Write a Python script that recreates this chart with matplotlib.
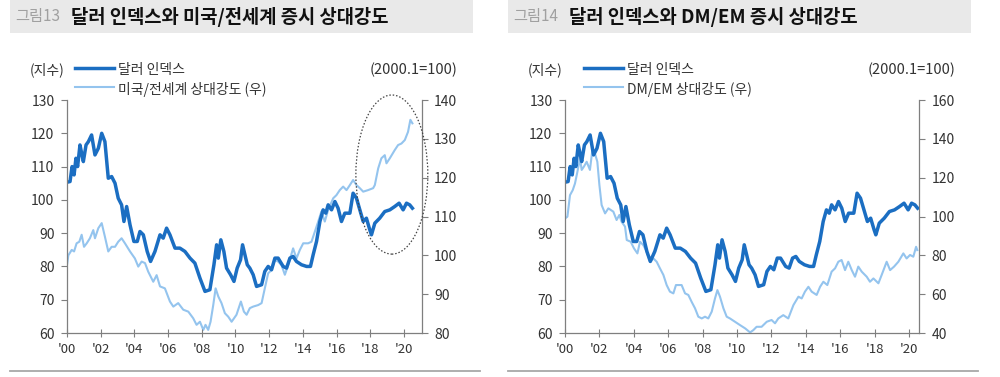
import numpy as np
import matplotlib
matplotlib.use("Agg")
import matplotlib.pyplot as plt
from matplotlib.patches import Rectangle, Ellipse
from matplotlib.lines import Line2D

plt.rcParams['font.family'] = ['Noto Sans CJK KR', 'DejaVu Sans']

# dollar index (same series in both panels)
dxy_year = [2000.0, 2000.18, 2000.30, 2000.42, 2000.53, 2000.63, 2000.77, 2000.89, 2000.97,
            2001.13, 2001.27, 2001.46, 2001.66, 2001.86, 2002.06, 2002.25, 2002.45, 2002.65,
            2002.85, 2003.04, 2003.24, 2003.38, 2003.54, 2003.74, 2003.97, 2004.17, 2004.33,
            2004.53, 2004.76, 2004.96, 2005.22, 2005.52, 2005.71, 2005.91, 2006.11, 2006.41,
            2006.70, 2007.00, 2007.30, 2007.59, 2007.89, 2008.19, 2008.48, 2008.72, 2008.88,
            2008.98, 2009.13, 2009.31, 2009.47, 2009.71, 2009.91, 2010.10, 2010.30, 2010.42,
            2010.56, 2010.70, 2010.85, 2011.05, 2011.25, 2011.55, 2011.74, 2011.94, 2012.14,
            2012.34, 2012.53, 2012.83, 2013.03, 2013.23, 2013.42, 2013.62, 2013.92, 2014.22,
            2014.45, 2014.61, 2014.81, 2015.01, 2015.20, 2015.36, 2015.50, 2015.70, 2015.90,
            2016.09, 2016.29, 2016.49, 2016.79, 2016.98, 2017.18, 2017.38, 2017.58, 2017.77,
            2017.97, 2018.07, 2018.27, 2018.56, 2018.86, 2019.16, 2019.45, 2019.71, 2019.95,
            2020.15, 2020.34, 2020.50]
dxy_val = [105.3, 105.5, 110.0, 107.5, 112.5, 110.0, 116.5, 113.5, 111.5,
           116.5, 117.5, 119.5, 113.5, 115.5, 120.0, 117.5, 106.5, 107.0,
           105.0, 100.5, 98.5, 93.5, 98.0, 92.5, 87.5, 87.5, 90.5,
           89.5, 84.5, 81.5, 84.5, 89.5, 88.5, 91.5, 89.5, 85.5,
           85.5, 84.5, 82.5, 81.0, 76.5, 72.5, 73.0, 80.5, 86.5,
           82.5, 88.0, 84.5, 79.5, 77.5, 75.5, 79.5, 82.0, 86.5,
           83.5, 80.5, 79.5, 77.5, 74.0, 74.5, 78.5, 80.0, 79.0,
           82.5, 82.5, 80.0, 79.5, 82.5, 83.0, 81.5, 80.5, 80.0,
           80.0, 83.5, 87.5, 93.5, 97.0, 96.0, 98.5, 97.0, 99.5,
           97.5, 93.5, 96.0, 96.0, 102.0, 100.5, 97.0, 93.5, 94.5,
           91.0, 89.5, 93.0, 94.5, 96.5, 97.0, 98.0, 99.0, 97.0,
           99.0, 98.5, 97.5]

# US / world relative strength (right axis, left panel)
usw_year = [2000.0, 2000.08, 2000.28, 2000.42, 2000.57, 2000.73, 2000.87, 2001.01, 2001.17,
            2001.36, 2001.56, 2001.66, 2001.86, 2002.06, 2002.25, 2002.45, 2002.65, 2002.85,
            2003.04, 2003.24, 2003.44, 2003.74, 2004.03, 2004.23, 2004.43, 2004.63, 2004.82,
            2005.12, 2005.32, 2005.52, 2005.81, 2006.11, 2006.31, 2006.60, 2006.90, 2007.20,
            2007.49, 2007.69, 2007.89, 2008.09, 2008.22, 2008.38, 2008.52, 2008.68, 2008.82,
            2008.98, 2009.17, 2009.37, 2009.57, 2009.77, 2010.06, 2010.32, 2010.50, 2010.66,
            2010.85, 2011.05, 2011.35, 2011.55, 2011.74, 2011.94, 2012.14, 2012.34, 2012.53,
            2012.73, 2012.93, 2013.13, 2013.42, 2013.62, 2013.82, 2014.02, 2014.31, 2014.51,
            2014.71, 2014.91, 2015.10, 2015.30, 2015.50, 2015.80, 2015.99, 2016.19, 2016.39,
            2016.59, 2016.79, 2016.98, 2017.18, 2017.38, 2017.58, 2017.87, 2018.17, 2018.27,
            2018.47, 2018.66, 2018.86, 2018.96, 2019.16, 2019.45, 2019.65, 2019.85, 2020.05,
            2020.24, 2020.38, 2020.50]
usw_val = [97.5, 100.0, 101.4, 101.0, 103.1, 103.5, 105.3, 102.2, 103.1,
           104.4, 106.5, 104.4, 107.0, 108.3, 104.8, 101.0, 102.2, 102.2,
           103.5, 104.4, 103.1, 101.0, 99.2, 97.1, 98.4, 98.0, 95.8,
           93.2, 94.9, 92.0, 91.5, 88.1, 86.8, 87.7, 86.0, 85.5,
           83.8, 82.1, 82.9, 80.8, 82.1, 80.8, 82.9, 87.2, 91.5,
           89.4, 87.7, 85.1, 84.2, 82.9, 84.7, 88.1, 85.5, 84.7,
           86.4, 86.8, 87.2, 87.7, 91.5, 95.4, 96.2, 98.8, 98.4,
           97.5, 95.0, 97.5, 101.8, 99.2, 101.4, 103.1, 103.1, 103.5,
           106.1, 108.7, 111.3, 108.7, 111.7, 114.7, 115.5, 116.8, 117.7,
           116.8, 118.1, 119.4, 118.1, 117.3, 116.4, 116.8, 117.3, 118.1,
           122.4, 125.0, 125.8, 123.7, 125.0, 127.1, 128.4, 128.8, 129.7,
           131.8, 134.9, 134.0]

# DM / EM relative strength (right axis, right panel)
dmem_year = [2000.0, 2000.14, 2000.29, 2000.45, 2000.58, 2000.72, 2000.87, 2000.97, 2001.10,
             2001.26, 2001.45, 2001.59, 2001.74, 2001.88, 2002.00, 2002.13, 2002.33, 2002.52,
             2002.81, 2003.00, 2003.16, 2003.29, 2003.49, 2003.59, 2003.82, 2004.01, 2004.21,
             2004.36, 2004.55, 2004.75, 2004.94, 2005.14, 2005.33, 2005.52, 2005.72, 2005.91,
             2006.10, 2006.30, 2006.45, 2006.78, 2006.98, 2007.17, 2007.36, 2007.56, 2007.75,
             2007.95, 2008.14, 2008.33, 2008.53, 2008.72, 2008.86, 2009.01, 2009.21, 2009.40,
             2009.59, 2009.88, 2010.17, 2010.47, 2010.76, 2010.95, 2011.14, 2011.43, 2011.73,
             2012.01, 2012.21, 2012.40, 2012.69, 2012.98, 2013.28, 2013.57, 2013.76, 2013.95,
             2014.15, 2014.34, 2014.63, 2014.83, 2015.02, 2015.25, 2015.50, 2015.70, 2015.89,
             2016.08, 2016.28, 2016.47, 2016.67, 2016.86, 2017.05, 2017.25, 2017.54, 2017.73,
             2017.93, 2018.22, 2018.41, 2018.70, 2018.90, 2019.13, 2019.38, 2019.67, 2019.86,
             2020.06, 2020.25, 2020.41, 2020.48]
dmem_val = [99.0, 99.9, 111.0, 113.6, 117.0, 123.0, 130.0, 124.0, 125.7,
            128.2, 124.0, 134.2, 132.5, 128.2, 116.2, 105.9, 101.6, 104.2,
            102.5, 98.2, 100.8, 97.3, 94.8, 87.9, 87.0, 83.6, 81.0,
            87.0, 85.3, 81.9, 76.7, 78.4, 76.7, 73.3, 69.9, 64.7,
            61.3, 60.4, 64.7, 64.7, 60.4, 59.6, 56.1, 52.7, 48.4,
            47.5, 48.4, 47.5, 51.0, 57.8, 62.1, 58.7, 52.7, 48.4,
            47.5, 45.8, 44.1, 42.4, 40.3, 41.5, 43.2, 43.2, 45.8,
            46.7, 45.0, 47.5, 49.2, 47.5, 54.4, 58.7, 57.8, 61.3,
            63.8, 61.3, 59.6, 63.8, 66.4, 64.7, 71.6, 73.3, 76.7,
            77.6, 72.4, 76.7, 72.4, 69.0, 74.2, 71.6, 69.0, 66.4,
            68.1, 65.6, 69.9, 76.7, 72.4, 74.2, 76.7, 81.0, 78.4,
            80.2, 79.3, 84.4, 82.7]

xticks = list(range(2000, 2021, 2))
xticklabels = ["'%02d" % (y % 100) for y in xticks]

dark = '#1b6ec2'
light = '#94c4ee'
spine_c = '#7f7f7f'
txt_c = '#333333'

fig = plt.figure(figsize=(10, 3.77), dpi=100)


def style(ax, side):
    for s in ['top', 'left', 'right', 'bottom']:
        ax.spines[s].set_visible(False)
    ax.spines['bottom'].set_visible(True)
    ax.spines[side].set_visible(True)
    for s in ['bottom', side]:
        ax.spines[s].set_color(spine_c)
        ax.spines[s].set_linewidth(0.9)
    ax.tick_params(axis='y', direction='out', length=4, width=0.8, color=spine_c,
                   labelsize=10, labelcolor=txt_c, pad=5)
    ax.tick_params(axis='x', direction='inout', length=6, width=0.8, color=spine_c,
                   labelsize=9.5, labelcolor=txt_c, pad=4)


def panel(x0, x1, xmax, title_num, title, rname, ryear, rval, rlim, rticks):
    ax = fig.add_axes([x0, 0.1167, x1 - x0, 0.618])
    ax2 = ax.twinx()
    ax.set_zorder(ax2.get_zorder() + 1)
    ax.patch.set_visible(False)

    ax2.plot(ryear, rval, color=light, lw=1.5, solid_joinstyle='round')
    ax.plot(dxy_year, dxy_val, color=dark, lw=2.5, solid_joinstyle='round')

    ax.set_xlim(2000, xmax)
    ax.set_ylim(60, 130)
    ax.set_yticks(range(60, 131, 10))
    ax2.set_ylim(*rlim)
    ax2.set_yticks(rticks)
    ax.set_xticks(xticks)
    ax.set_xticklabels(xticklabels)
    style(ax, 'left')
    style(ax2, 'right')
    ax2.spines['bottom'].set_visible(False)

    # title bar
    fig.add_artist(Rectangle((x0 - 0.057, 0.9125), 0.463, 0.0875, transform=fig.transFigure,
                             facecolor='#e9e9e9', edgecolor='none', zorder=0))
    fig.text(x0 - 0.052, 0.955, title_num, fontsize=11, color='#a0a0a0', va='center')
    fig.text(x0 + 0.004, 0.955, title, fontsize=13.5, fontweight='bold', color='#111111',
             va='center')

    # legend
    fig.text(x0 - 0.037, 0.815, '(지수)', fontsize=10, color=txt_c, va='center')
    fig.text(x1 + 0.036, 0.815, '(2000.1=100)', fontsize=10.5, color=txt_c, va='center',
             ha='right')
    lx = x0 + 0.008 if x0 < 0.5 else x0 + 0.019
    fig.add_artist(Line2D([lx, lx + 0.039], [0.82, 0.82], color=dark, lw=2.5,
                          transform=fig.transFigure))
    fig.add_artist(Line2D([lx, lx + 0.039], [0.768, 0.768], color=light, lw=1.5,
                          transform=fig.transFigure))
    fig.text(lx + 0.043, 0.815, '달러 인덱스', fontsize=10, color=txt_c, va='center')
    fig.text(lx + 0.043, 0.763, rname, fontsize=10, color=txt_c, va='center')

    # bottom rule
    fig.add_artist(Line2D([x0 - 0.057, x0 + 0.413], [0.016, 0.016], color='#a8a8a8',
                          lw=1.3, transform=fig.transFigure))
    return ax


ax1 = panel(0.067, 0.4215, 2021.04, '그림13', '달러 인덱스와 미국/전세계 증시 상대강도',
            '미국/전세계 상대강도 (우)', usw_year, usw_val, (80, 140), range(80, 141, 10))
ax1.add_patch(Ellipse((2019.28, 107.6), 4.27, 47.8, fill=False, edgecolor='#444444',
                      linestyle=(0, (1.2, 1.5)), lw=0.9, clip_on=False, zorder=5))

ax3 = panel(0.565, 0.919, 2020.58, '그림14', '달러 인덱스와 DM/EM 증시 상대강도',
            'DM/EM 상대강도 (우)', dmem_year, dmem_val, (40, 160), range(40, 161, 20))

fig.savefig('out.png', dpi=100)
